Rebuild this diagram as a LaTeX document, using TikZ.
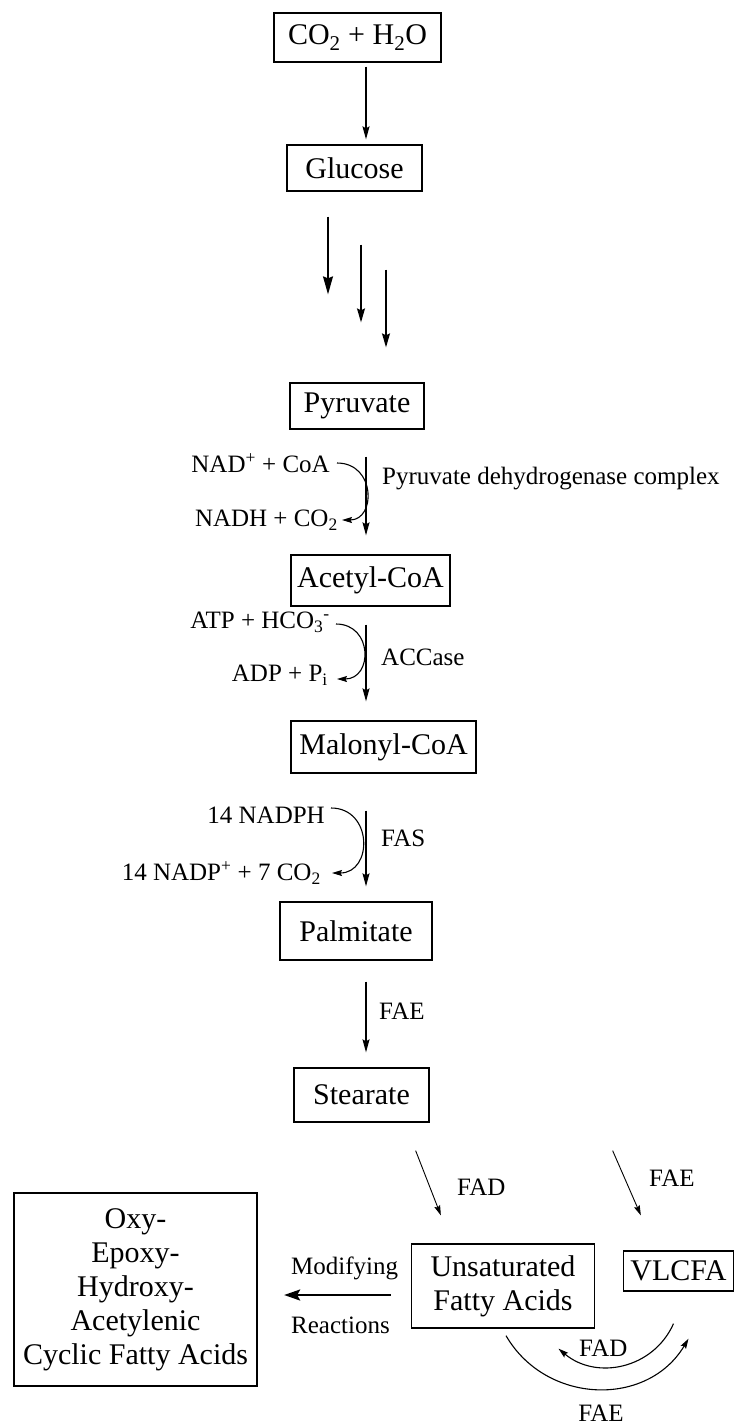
\documentclass[tikz,border=0pt]{standalone}
\usepackage{fontspec}
\setmainfont{Liberation Serif}
\usetikzlibrary{arrows.meta}
\newcommand{\boxfont}{\fontsize{30}{34}\selectfont}
\newcommand{\labfont}{\fontsize{25}{28}\selectfont}

\begin{document}
\begin{tikzpicture}[x=1pt, y=-1pt,
    stage/.style={draw, line width=1.3pt, inner sep=0pt, align=center, font=\boxfont},
    enz/.style={inner sep=0pt, font=\labfont},
    flow/.style={line width=1.4pt, -{Stealth[length=13pt,width=7pt,inset=2pt]}},
    side/.style={line width=1.1pt, -{Stealth[length=10pt,width=6pt,inset=1.5pt]}}]
  \useasboundingbox (0,0) rectangle (735,1424);
  % main chain
  \node[stage, minimum width=167pt, minimum height=49pt] (co2) at (357.5,37.5) {CO\textsubscript{2} + H\textsubscript{2}O};
  \node[stage, minimum width=135pt, minimum height=46pt] (glc) at (354.5,168) {Glucose};
  \node[stage, minimum width=134pt, minimum height=46pt] (pyr) at (357,406) {Pyruvate};
  \node[stage, minimum width=159pt, minimum height=51pt] (acoa) at (370.5,580.5) {Acetyl-CoA};
  \node[stage, minimum width=185pt, minimum height=52pt] (mcoa) at (383.5,747) {Malonyl-CoA};
  \node[stage, minimum width=152pt, minimum height=58pt] (palm) at (356,931) {Palmitate};
  \node[stage, minimum width=135pt, minimum height=54pt] (stea) at (361.5,1095) {Stearate};
  \node[stage, minimum width=183pt, minimum height=84pt] (ufa) at (503,1286) {Unsaturated\\Fatty Acids};
  \node[stage, minimum width=110pt, minimum height=40pt] (vlcfa) at (678.5,1271) {VLCFA};
  \node[stage, minimum width=243pt, minimum height=193pt] (mod) at (135.5,1289.5) {Oxy-\\Epoxy-\\Hydroxy-\\Acetylenic\\Cyclic Fatty Acids};

  % cofactors and enzymes
  \node[enz, anchor=east] (nad) at (330,463) {NAD\textsuperscript{+} + CoA};
  \node[enz, anchor=west] (pdc) at (382,479) {Pyruvate dehydrogenase complex};
  \node[enz, anchor=east] (nadh) at (338,520) {NADH + CO\textsubscript{2}};
  \node[enz, anchor=east] (atp) at (330,622) {ATP + HCO\textsubscript{3}\textsuperscript{-}};
  \node[enz, anchor=west] (acc) at (381,657) {ACCase};
  \node[enz, anchor=east] (adp) at (328,675) {ADP + P\textsubscript{i}};
  \node[enz, anchor=east] (nadph) at (325,815) {14 NADPH};
  \node[enz, anchor=west] (fas) at (381,838) {FAS};
  \node[enz, anchor=east] (nadp) at (321,873) {14 NADP\textsuperscript{+} + 7 CO\textsubscript{2}};
  \node[enz, anchor=west] (fae) at (379,1011) {FAE};
  \node[enz, anchor=west] (fad1) at (457,1187) {FAD};
  \node[enz, anchor=west] (fae1) at (649,1178) {FAE};
  \node[enz, anchor=west] (modr) at (291,1268) {Modifying};
  \node[enz, anchor=west] (reac) at (291,1325) {Reactions};
  \node[enz, anchor=west] (fad2) at (579,1348) {FAD};
  \node[enz] (fae2) at (601,1413) {FAE};

  % straight steps
  \coordinate (ax) at (366,0);
  \foreach \a/\b/\s/\e in {co2/glc/4pt/5pt, pyr/acoa/27pt/19pt, acoa/mcoa/18pt/19pt, mcoa/palm/37pt/15pt, palm/stea/21pt/15pt}
    \draw[flow, shorten <=\s, shorten >=\e] (\a.south -| ax) -- (\b.north -| ax);
  \foreach \dx/\s/\e/\l/\w in {-26.5/25pt/88pt/18pt/10pt, 6.5/53pt/60pt/14pt/8pt, 31.5/78pt/35pt/14pt/8pt}
    \draw[line width=1.4pt, -{Stealth[length=\l,width=\w,inset=2pt]}, shorten <=\s, shorten >=\e]
      ([xshift=\dx]glc.south) -- ([xshift=\dx]glc.south |- pyr.north);

  % cofactor curves
  \draw[side] ([xshift=7pt]nad.east) .. controls +(39,0) and +(34,0) .. ([xshift=4pt]nadh.east);
  \draw[side] ([shift={(6,2)}]atp.east) .. controls +(37,0) and +(36,0) .. ([shift={(9,4)}]adp.east);
  \draw[side] ([shift={(6,-7)}]nadph.east) .. controls +(42,0) and +(41,0) .. ([xshift=11pt]nadp.east);

  % stearate branches
  \draw[side, line width=0.9pt] ([shift={(-14,28)}]stea.south east) -- ([shift={(30,-28)}]ufa.north west);
  \draw[side, line width=0.9pt] ([shift={(183,28)}]stea.south east) -- ([shift={(18,-35)}]vlcfa.north west);
  \draw[line width=2.4pt, -{Stealth[length=16pt,width=11pt,inset=3pt]}, shorten <=20pt, shorten >=26.5pt]
    ([yshift=-9pt]ufa.west) -- ([yshift=-9pt]ufa.west -| mod.east);
  \draw[side] ([shift={(3,7)}]ufa.south) .. controls +(40,69) and +(-41,69) .. ([shift={(10,47)}]vlcfa.south);
  \draw[side] ([shift={(-5,32)}]vlcfa.south) .. controls +(-20,45) and +(38,32) .. ([shift={(-120,57)}]vlcfa.south);
\end{tikzpicture}
\end{document}
